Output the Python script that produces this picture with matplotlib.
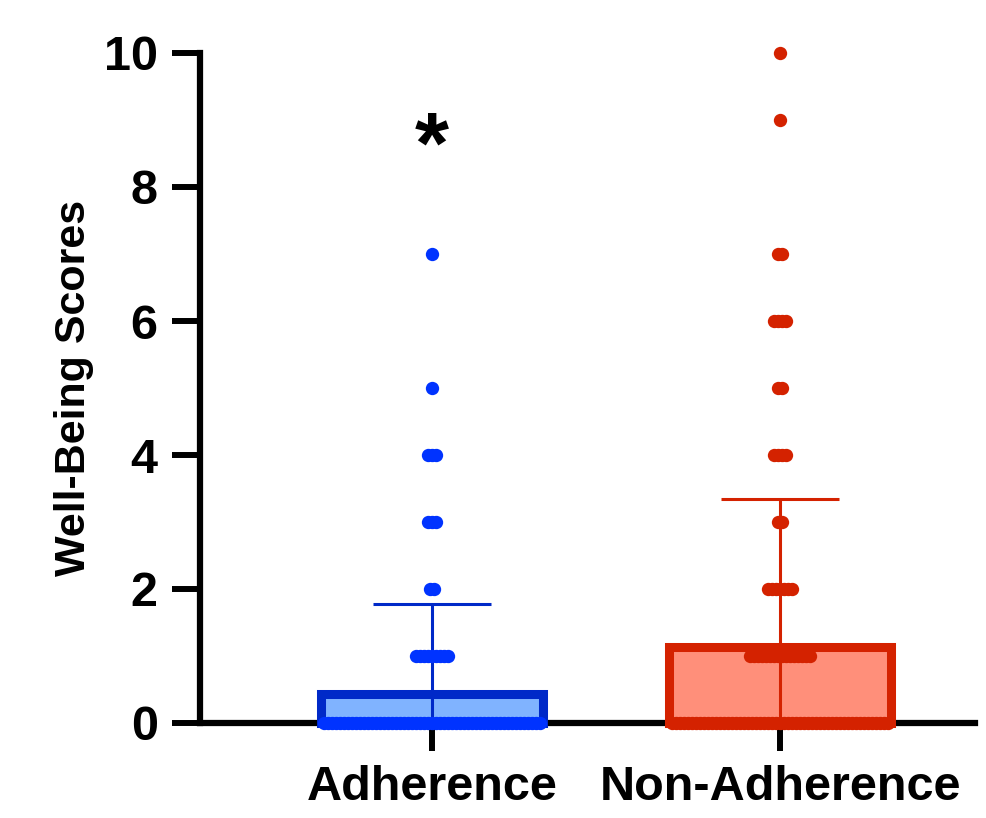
import numpy as np
import matplotlib
matplotlib.use("Agg")
import matplotlib.pyplot as plt

plt.rcParams['font.family'] = ['Liberation Sans', 'DejaVu Sans']
plt.rcParams['font.weight'] = 'bold'

# ---- data ----
categories = ['Adherence', 'Non-Adherence']
means = [0.43, 1.13]
sds = [1.35, 2.21]
score_levels = [0, 1, 2, 3, 4, 5, 6, 7, 8, 9, 10]
adherence_counts = [55, 9, 2, 3, 3, 1, 0, 1, 0, 0, 0]
non_adherence_counts = [55, 16, 7, 2, 4, 2, 4, 2, 0, 1, 1]
yticks = [0, 2, 4, 6, 8, 10]

# ---- styles ----
fill_colors = ['#80B3FF', '#FF8F7A']
edge_colors = ['#0029C8', '#D42200']
dot_colors = ['#0033FF', '#D42200']

W, H, DPI = 986, 818, 100
fig = plt.figure(figsize=(W / DPI, H / DPI), dpi=DPI)
left_px, right_px, top_px, bottom_px = 200, 975, 53, 723
ax = fig.add_axes([left_px / W, 1 - bottom_px / H,
                   (right_px - left_px) / W, (bottom_px - top_px) / H])

x = np.arange(len(categories))
ax.set_xlim(-0.667, 1.560)
ax.set_ylim(0, 10)

ax.bar(x, means, width=0.637, color=fill_colors, edgecolor=edge_colors,
       linewidth=6.5, zorder=2, clip_on=False, joinstyle='miter')

for i in range(len(categories)):
    ax.errorbar(x[i], means[i], yerr=[[means[i]], [sds[i]]], fmt='none',
                ecolor=edge_colors[i], elinewidth=2.2, capsize=42.5,
                capthick=2.2, zorder=3, clip_on=False)

# horizontal point spreading (4 px between neighbours)
px_per_data = (right_px - left_px) / (ax.get_xlim()[1] - ax.get_xlim()[0])
step = 4.0 / px_per_data
for i, counts in enumerate([adherence_counts, non_adherence_counts]):
    xs, ys = [], []
    for lvl, n in zip(score_levels, counts):
        if n == 0:
            continue
        offs = (np.arange(n) - (n - 1) / 2) * step
        xs.extend(x[i] + offs)
        ys.extend([lvl] * n)
    ax.scatter(xs, ys, s=92, color=dot_colors[i], linewidths=0,
               zorder=4, clip_on=False)

ax.text(0, 8.22, '*', ha='center', va='baseline', fontsize=63,
        fontweight='bold', color='black')

for s in ['top', 'right']:
    ax.spines[s].set_visible(False)
for s in ['left', 'bottom']:
    ax.spines[s].set_linewidth(4.5)
    ax.spines[s].set_zorder(1)

ax.set_yticks(yticks)
ax.set_yticklabels([str(t) for t in yticks])
ax.set_xticks(x)
ax.set_xticklabels(categories)
ax.tick_params(axis='both', direction='out', length=20.5, width=4.3,
               labelsize=35, pad=10)
for lab in ax.get_xticklabels() + ax.get_yticklabels():
    lab.set_fontweight('bold')

ax.set_ylabel('Well-Being Scores', fontsize=31, fontweight='bold')
ax.yaxis.set_label_coords((94 - left_px) / (right_px - left_px), 0.5)

fig.savefig('out.png', dpi=DPI)
